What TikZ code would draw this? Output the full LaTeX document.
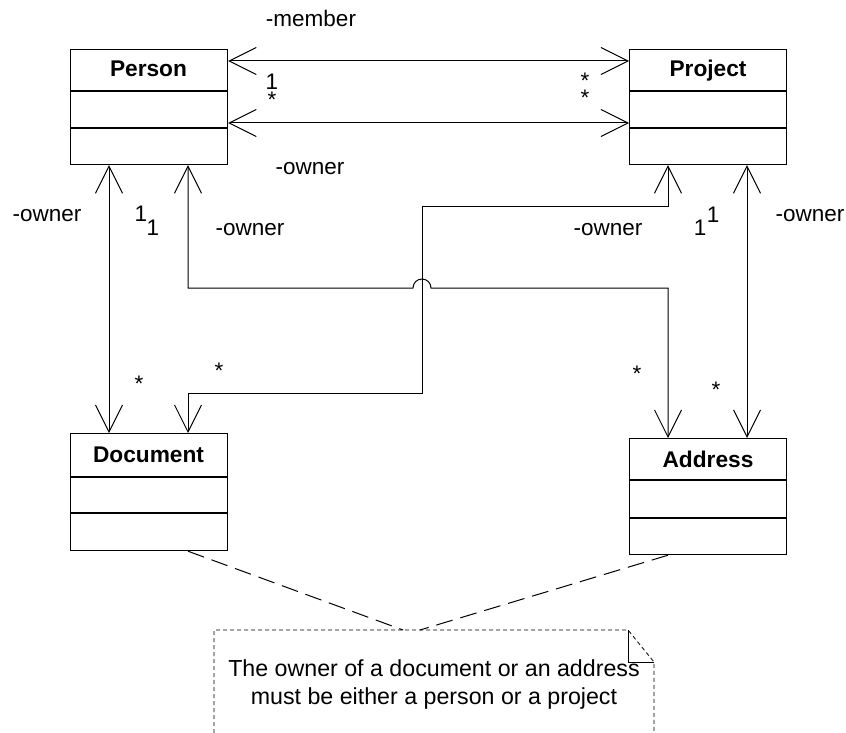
\documentclass[tikz,border=0pt]{standalone}
\usepackage{fontspec}
\setmainfont{Liberation Sans}
\usetikzlibrary{arrows.meta,calc}
\begin{document}
\begin{tikzpicture}[x=1pt,y=-1pt,
  cls/.style={draw, line width=1.2pt, inner sep=0pt, anchor=north west, minimum width=157pt},
  clsline/.style={line width=1.2pt},
  clsname/.style={anchor=base, inner sep=0pt, font=\fontsize{22.7}{27}\selectfont\bfseries},
  lbl/.style={anchor=base, inner sep=0pt, font=\fontsize{22.5}{27}\selectfont},
  assoc/.style={line width=1pt, {Straight Barb[length=27pt,width=27pt]}-{Straight Barb[length=27pt,width=27pt]}},
  notelink/.style={line width=1pt, dash pattern=on 17pt off 8pt},
  notebox/.style={line width=0.8pt, dash pattern=on 4pt off 3pt},
  notetext/.style={align=center, inner sep=0pt, font=\fontsize{23.2}{28}\selectfont}
]
\useasboundingbox (0,0) rectangle (846,733);

% classes
\node[cls, minimum height=115pt] (person) at (70,49) {};
\node[cls, minimum height=115pt] (project) at (629,49) {};
\node[cls, minimum height=117pt] (document) at (70,433) {};
\node[cls, minimum height=116pt] (address) at (629,438) {};

\node[clsname] (personname) at (148.5,77) {Person};
\node[clsname] (projectname) at (708,77) {Project};
\node[clsname] (documentname) at (148.5,462) {Document};
\node[clsname] (addressname) at (708,467) {Address};

\draw[clsline] ($(person.north west)+(0,42)$) -- ($(person.north east)+(0,42)$);
\draw[clsline] ($(person.north west)+(0,79)$) -- ($(person.north east)+(0,79)$);
\draw[clsline] ($(project.north west)+(0,42)$) -- ($(project.north east)+(0,42)$);
\draw[clsline] ($(project.north west)+(0,79)$) -- ($(project.north east)+(0,79)$);
\draw[clsline] ($(document.north west)+(0,44)$) -- ($(document.north east)+(0,44)$);
\draw[clsline] ($(document.north west)+(0,80)$) -- ($(document.north east)+(0,80)$);
\draw[clsline] ($(address.north west)+(0,42)$) -- ($(address.north east)+(0,42)$);
\draw[clsline] ($(address.north west)+(0,80)$) -- ($(address.north east)+(0,80)$);

% associations
\draw[assoc] ($(person.north east)+(0,12)$) -- ($(project.north west)+(0,12)$);
\draw[assoc] ($(person.north east)+(0,74)$) -- ($(project.north west)+(0,74)$);
\draw[assoc] ($(person.south west)+(39,0)$) -- ($(document.north west)+(39,0)$);
\draw[assoc] ($(project.south west)+(118,0)$) -- ($(address.north west)+(118,0)$);
\draw[assoc] ($(person.south west)+(118,0)$) -- (188,288) -- (413,288)
   arc[start angle=180, end angle=0, radius=9pt] -- (668,288) -- ($(address.north west)+(39,0)$);
\draw[assoc] ($(project.south west)+(39,0)$) -- (668,206) -- (422,206) -- (422,393) -- (188,393)
   -- ($(document.north west)+(118,0)$);

% labels
\node[lbl] (l1) at (311,27) {-member};
\node[lbl] (l2) at (310,175) {-owner};
\node[lbl] (l3) at (272,90) {1};
\node[lbl] (l4) at (272,108) {*};
\node[lbl] (l5) at (585,89) {*};
\node[lbl] (l6) at (585,106) {*};
\node[lbl] (l7) at (47,221) {-owner};
\node[lbl] (l8) at (141,221) {1};
\node[lbl] (l9) at (153,235) {1};
\node[lbl] (l10) at (250,235) {-owner};
\node[lbl] (l11) at (608,235) {-owner};
\node[lbl] (l12) at (700,235) {1};
\node[lbl] (l13) at (713,222) {1};
\node[lbl] (l14) at (810,221) {-owner};
\node[lbl] (l15) at (139,391) {*};
\node[lbl] (l16) at (219,378) {*};
\node[lbl] (l17) at (637,381) {*};
\node[lbl] (l18) at (716,397) {*};

% note
\coordinate (notel) at (403,630);
\coordinate (noter) at (420,630);
\draw[notebox] (214,733) -- (214,630) -- (628,630) -- (654,662) -- (654,733);
\draw[line width=0.8pt] (628,630) -- (628,662) -- (654,662);
\node[notetext] (notetext) at (434,684) {The owner of a document or an address\\must be either a person or a project};
\draw[notelink] ($(document.south west)+(118,0)$) -- (notel);
\draw[notelink] ($(address.south west)+(39,0)$) -- (noter);
\end{tikzpicture}
\end{document}
